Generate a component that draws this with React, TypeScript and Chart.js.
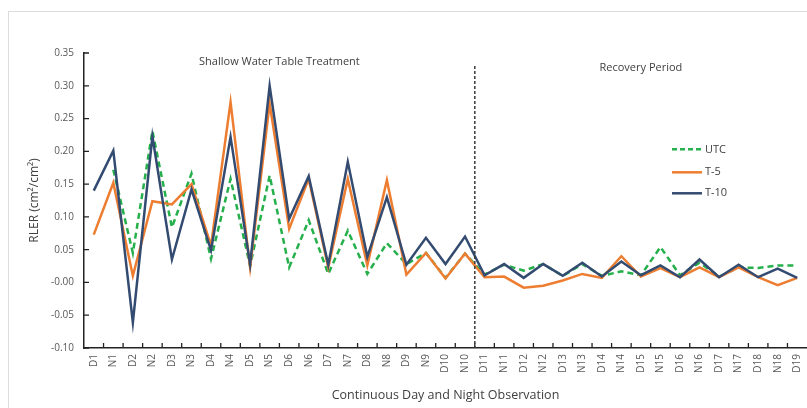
import React, { useEffect, useRef } from "react";
import { Chart, registerables } from "chart.js";

Chart.register(...registerables);

const categories = [
  "D1", "N1", "D2", "N2", "D3", "N3", "D4", "N4", "D5", "N5",
  "D6", "N6", "D7", "N7", "D8", "N8", "D9", "N9", "D10", "N10",
  "D11", "N11", "D12", "N12", "D13", "N13", "D14", "N14", "D15", "N15",
  "D16", "N16", "D17", "N17", "D18", "N18", "D19",
];

const utc = [
  null, 0.172, 0.045, 0.231, 0.084, 0.166, 0.036, 0.158, 0.025, 0.163,
  0.023, 0.095, 0.013, 0.079, 0.013, 0.06, 0.028, 0.045, 0.007, 0.044,
  0.012, 0.027, 0.018, 0.028, 0.01, 0.028, 0.01, 0.017, 0.011, 0.054,
  0.011, 0.03, 0.009, 0.023, 0.022, 0.026, 0.026,
];

const t5 = [
  0.073, 0.152, 0.01, 0.124, 0.119, 0.15, 0.056, 0.275, 0.023, 0.273,
  0.082, 0.158, 0.023, 0.158, 0.026, 0.156, 0.012, 0.045, 0.006, 0.044,
  0.008, 0.009, -0.008, -0.005, 0.003, 0.013, 0.007, 0.04, 0.009, 0.022,
  0.008, 0.023, 0.008, 0.023, 0.008, -0.004, 0.007,
];

const t10 = [
  0.14, 0.201, -0.061, 0.223, 0.035, 0.142, 0.049, 0.222, 0.028, 0.3,
  0.097, 0.162, 0.027, 0.184, 0.039, 0.13, 0.027, 0.068, 0.028, 0.07,
  0.011, 0.028, 0.007, 0.028, 0.01, 0.03, 0.009, 0.032, 0.011, 0.026,
  0.008, 0.035, 0.008, 0.027, 0.008, 0.021, 0.007,
];

const seriesNames = ["UTC", "T-5", "T-10"];
const sectionTitles = ["Shallow Water Table Treatment", "Recovery Period"];
const dividerAfterIndex = 19; // between N10 and D11
const dividerTopValue = 0.33;
const yMin = -0.1;
const yMax = 0.35;
const yStep = 0.05;

const FONT = '"Open Sans", sans-serif';
const TEXT = "#404040";
const COLORS = { utc: "#25B04B", t5: "#ED7D31", t10: "#334B70" };

export default function App() {
  const ref = useRef<HTMLCanvasElement | null>(null);

  useEffect(() => {
    document.body.style.margin = "0";
    const canvas = ref.current;
    if (!canvas) return;

    const decor = {
      id: "decor",
      beforeDraw(chart: any) {
        const ctx = chart.ctx;
        ctx.save();
        ctx.strokeStyle = "#dcdcdc";
        ctx.lineWidth = 1;
        ctx.beginPath();
        ctx.moveTo(8, 11.5);
        ctx.lineTo(chart.width, 11.5);
        ctx.moveTo(8.5, 11);
        ctx.lineTo(8.5, chart.height);
        ctx.stroke();
        ctx.restore();
      },
      afterDraw(chart: any) {
        const ctx = chart.ctx;
        const xs = chart.scales.x;
        const ys = chart.scales.y;
        const area = chart.chartArea;
        ctx.save();
        // inside tick marks
        ctx.strokeStyle = "#222";
        ctx.lineWidth = 1.3;
        ctx.beginPath();
        for (let i = 0; i < categories.length - 1; i++) {
          const px = (xs.getPixelForValue(i) + xs.getPixelForValue(i + 1)) / 2;
          ctx.moveTo(px, area.bottom);
          ctx.lineTo(px, area.bottom - 5);
        }
        ys.ticks.forEach((t: any) => {
          const py = ys.getPixelForValue(t.value);
          ctx.moveTo(area.left, py);
          ctx.lineTo(area.left + 5, py);
        });
        ctx.stroke();

        // divider
        const dx = (xs.getPixelForValue(dividerAfterIndex) + xs.getPixelForValue(dividerAfterIndex + 1)) / 2;
        ctx.strokeStyle = "#3a3a3a";
        ctx.lineWidth = 1.5;
        ctx.setLineDash([3, 2]);
        ctx.beginPath();
        ctx.moveTo(dx, ys.getPixelForValue(dividerTopValue));
        ctx.lineTo(dx, area.bottom);
        ctx.stroke();
        ctx.setLineDash([]);

        // section titles
        ctx.fillStyle = TEXT;
        ctx.font = `11px ${FONT}`;
        ctx.textAlign = "center";
        ctx.textBaseline = "middle";
        const leftCenter = (xs.getPixelForValue(0) + xs.getPixelForValue(dividerAfterIndex)) / 2;
        ctx.fillText(sectionTitles[0], leftCenter, ys.getPixelForValue(0.337));
        const rightCenter = (xs.getPixelForValue(dividerAfterIndex + 1) + xs.getPixelForValue(categories.length - 1)) / 2;
        ctx.fillText(sectionTitles[1], rightCenter, ys.getPixelForValue(0.328));

        // legend
        const lx0 = xs.getPixelForValue(30) - 8;
        const lx1 = lx0 + 30;
        const legendVals = [0.203, 0.168, 0.136];
        const styles = [
          { c: COLORS.utc, dash: [5, 3] },
          { c: COLORS.t5, dash: [] },
          { c: COLORS.t10, dash: [] },
        ];
        ctx.textAlign = "left";
        seriesNames.forEach((name, i) => {
          const ly = ys.getPixelForValue(legendVals[i]);
          ctx.strokeStyle = styles[i].c;
          ctx.lineWidth = 2.5;
          ctx.setLineDash(styles[i].dash);
          ctx.beginPath();
          ctx.moveTo(lx0, ly);
          ctx.lineTo(lx1, ly);
          ctx.stroke();
          ctx.setLineDash([]);
          ctx.fillStyle = TEXT;
          ctx.fillText(name, lx1 + 3, ly);
        });
        ctx.restore();
      },
    };

    const chart = new Chart(canvas, {
      type: "line",
      data: {
        labels: categories,
        datasets: [
          {
            label: seriesNames[0],
            data: utc,
            borderColor: COLORS.utc,
            borderWidth: 2.5,
            borderDash: [6, 4],
            pointRadius: 0,
            tension: 0,
            order: 2,
          },
          {
            label: seriesNames[1],
            data: t5,
            borderColor: COLORS.t5,
            borderWidth: 2.5,
            pointRadius: 0,
            tension: 0,
            order: 1,
          },
          {
            label: seriesNames[2],
            data: t10,
            borderColor: COLORS.t10,
            borderWidth: 2.5,
            pointRadius: 0,
            tension: 0,
            order: 0,
          },
        ],
      },
      options: {
        responsive: false,
        animation: false,
        layout: { padding: { top: 53, right: 0, left: 0, bottom: 0 } },
        plugins: { legend: { display: false }, tooltip: { enabled: false } },
        scales: {
          x: {
            offset: true,
            grid: { display: false, drawTicks: false },
            border: { display: true, color: "#222", width: 1.5 },
            ticks: {
              autoSkip: false,
              minRotation: 90,
              maxRotation: 90,
              padding: 6,
              color: "#595959",
              font: { family: FONT, size: 10 },
            },
            title: {
              display: true,
              text: "Continuous Day and Night Observation",
              color: TEXT,
              font: { family: FONT, size: 12.5 },
              padding: { top: 0, bottom: 5 },
            },
            afterFit(scale: any) {
              scale.height = 60;
              scale.paddingLeft = 0;
              scale.paddingRight = 0;
            },
          },
          y: {
            min: yMin,
            max: yMax,
            grid: { display: false, drawTicks: false },
            border: { display: true, color: "#222", width: 1.5 },
            ticks: {
              stepSize: yStep,
              padding: 10,
              color: "#595959",
              font: { family: FONT, size: 10 },
              callback: (v: any) => Number(v).toFixed(2),
            },
            title: {
              display: true,
              text: "RLER (cm²/cm²)",
              color: TEXT,
              font: { family: FONT, size: 12 },
              padding: { top: 27, bottom: 0 },
            },
            afterFit(scale: any) {
              scale.width = 84;
              scale.paddingTop = 0;
              scale.paddingBottom = 0;
            },
          },
        },
      },
      plugins: [decor],
    });

    return () => chart.destroy();
  }, []);

  return (
    <div style={{ width: 807, height: 408 }}>
      <canvas ref={ref} width={807} height={408} style={{ width: 807, height: 408, display: "block" }} />
    </div>
  );
}
